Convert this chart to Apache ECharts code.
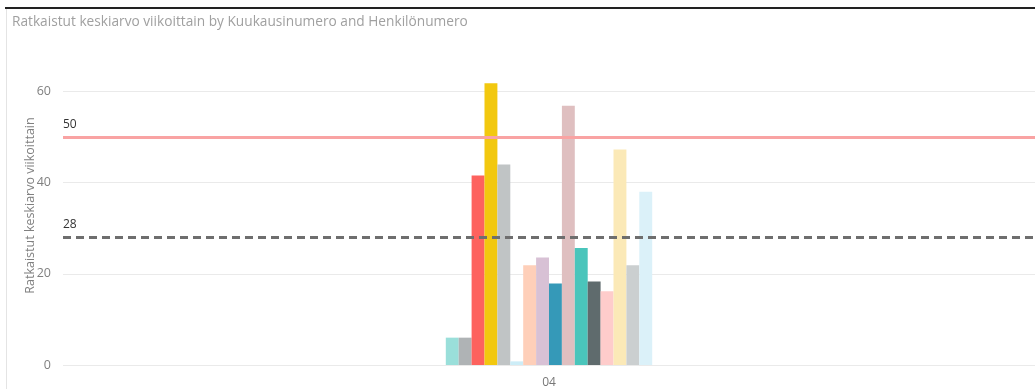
<!DOCTYPE html>
<html>
<head>
<meta charset="utf-8">
<script src="https://cdn.jsdelivr.net/npm/echarts@6/dist/echarts.min.js"></script>
<style>
  html, body { margin: 0; padding: 0; background: #fff; }
  #charts { width: 1035px; height: 392px; }
</style>
</head>
<body>
<div id="charts"></div>
<script>
let categories = ["04"];
let persons = ["1", "2", "3", "4", "5", "6", "7", "8", "9", "10", "11", "12", "13", "14", "15", "16"];
let values = [6, 6, 41.6, 61.8, 44, 0.8, 21.9, 23.6, 17.9, 56.9, 25.7, 18.3, 16.2, 47.3, 21.9, 38];
let barColors = [
  "#9ADFDA", "#AFB3B5", "#FD625E", "#F2C80F", "#C0C4C5", "#CDEDF7", "#FECFB9", "#D8C1D5",
  "#3599B8", "#DFBFC0", "#4AC5BB", "#5F6B6D", "#FECCCB", "#FBE9B7", "#CBCFD0", "#DBF1F9"
];
let yTicks = [0, 20, 40, 60];
let targetLine = 50;
let averageLine = 28;

/* one series per person, all in the same month */
function buildSeries() {
  let list = [];
  for (let i = 0; i < persons.length; i++) {
    let s = {
      name: persons[i],
      type: "bar",
      data: [values[i]],
      barWidth: 12.9,
      barGap: "0%",
      itemStyle: { color: barColors[i] }
    };
    if (i === 0) {
      // reference lines: target and average
      s.markLine = {
        symbol: "none",
        silent: true,
        z: 10,
        label: {
          position: "insideStartTop",
          formatter: "{c}",
          color: "#333",
          fontSize: 12,
          fontFamily: "Open Sans",
          distance: [0, 7]
        },
        data: [
          { yAxis: targetLine, lineStyle: { color: "#F9A3A3", width: 3, type: "solid" } },
          { yAxis: averageLine, lineStyle: { color: "#6E6E6E", width: 3, type: [8, 5] } }
        ]
      };
    }
    list.push(s);
  }
  return list;
}

let myChart = echarts.init(document.getElementById("charts"));
let option = {
  animation: false,
  title: {
    text: "Ratkaistut keskiarvo viikoittain by Kuukausinumero and Henkilönumero",
    left: 7,
    top: 10,
    textStyle: { color: "#A0A0A0", fontSize: 13.7, fontWeight: "normal", fontFamily: "Open Sans" }
  },
  grid: { left: 63, right: 0, top: 46, bottom: 27 },
  xAxis: {
    type: "category",
    data: categories,
    axisLine: { show: false },
    axisTick: { show: false },
    axisLabel: { color: "#777", fontSize: 12, fontFamily: "Open Sans", margin: 12 }
  },
  yAxis: {
    type: "value",
    min: 0,
    max: 70,
    interval: 20,
    name: "Ratkaistut keskiarvo viikoittain",
    nameLocation: "middle",
    nameGap: 26,
    nameMoveOverlap: false,
    nameTextStyle: { color: "#808080", fontSize: 12.5, fontFamily: "Open Sans" },
    axisLabel: {
      color: "#808080",
      fontSize: 12.5,
      fontFamily: "Open Sans",
      margin: 12,
      showMaxLabel: false,
      formatter: function (v) { return yTicks.indexOf(v) >= 0 ? v : ""; }
    },
    splitLine: { showMaxLine: false, lineStyle: { color: "#EAEAEA", width: 1 } }
  },
  graphic: [
    { type: "rect", shape: { x: 5, y: 7, width: 1030, height: 2 }, style: { fill: "#222" } },
    { type: "rect", shape: { x: 6, y: 9, width: 1, height: 380 }, style: { fill: "#E4E4E4" } }
  ],
  series: buildSeries()
};
myChart.setOption(option);
</script>
</body>
</html>
